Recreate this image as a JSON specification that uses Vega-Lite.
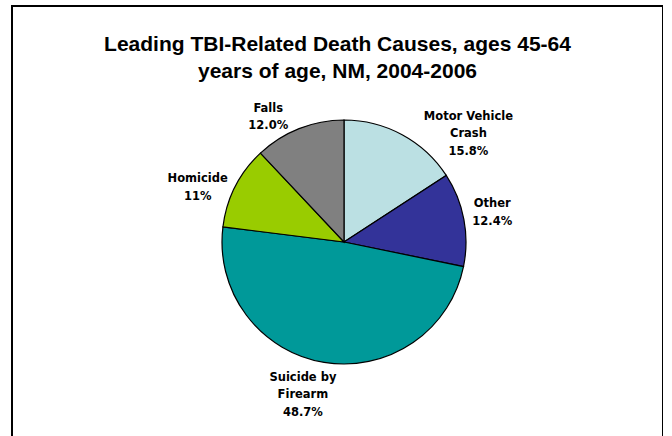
{
  "$schema": "https://vega.github.io/schema/vega-lite/v6.json",
  "width": 651,
  "height": 440,
  "autosize": "none",
  "padding": {"left": 12, "top": 6, "right": 0, "bottom": 0},
  "background": "white",
  "view": {"stroke": "black", "strokeWidth": 2, "fill": "white"},
  "config": {"view": {"stroke": "black", "strokeWidth": 2}},
  "title": {
    "text": ["Leading TBI-Related Death Causes, ages 45-64", "years of age, NM, 2004-2006"],
    "font": "Liberation Sans",
    "fontSize": 21,
    "fontWeight": "bold",
    "color": "black",
    "anchor": "middle",
    "offset": -76,
    "lineHeight": 27
  },
  "data": {
    "values": [
      {"cause": "Motor Vehicle Crash", "pct": 15.8, "label": ["Motor Vehicle", "Crash", "15.8%"]},
      {"cause": "Other", "pct": 12.4, "label": ["Other", "12.4%"]},
      {"cause": "Suicide by Firearm", "pct": 48.7, "label": ["Suicide by", "Firearm", "48.7%"]},
      {"cause": "Homicide", "pct": 11, "label": ["Homicide", "11%"]},
      {"cause": "Falls", "pct": 12.0, "label": ["Falls", "12.0%"]}
    ]
  },
  "transform": [{"window": [{"op": "row_number", "as": "idx"}]}],
  "encoding": {
    "theta": {"field": "pct", "type": "quantitative", "stack": true},
    "order": {"field": "idx", "type": "quantitative"}
  },
  "layer": [
    {
      "mark": {"type": "arc", "outerRadius": 122, "stroke": "black", "strokeWidth": 1.2, "x": {"expr": "width/2+6.5"}, "y": {"expr": "height/2+16"}},
      "encoding": {
        "color": {
          "field": "cause",
          "type": "nominal",
          "scale": {
            "domain": ["Motor Vehicle Crash", "Other", "Suicide by Firearm", "Homicide", "Falls"],
            "range": ["#BBE0E3", "#333399", "#009999", "#99CC00", "#808080"]
          },
          "legend": null
        }
      }
    },
    {
      "mark": {
        "type": "text", "radius": 154,
        "font": "DejaVu Sans", "fontSize": 11.5, "fontWeight": "bold", "color": "black",
        "align": "center", "baseline": "middle", "lineHeight": 17.5,
        "x": {"expr": "width/2+6.5"}, "y": {"expr": "height/2+16"},
        "dx": {"expr": "datum.cause === 'Motor Vehicle Crash' ? 51 : datum.cause === 'Other' ? -3 : datum.cause === 'Suicide by Firearm' ? -16 : datum.cause === 'Homicide' ? -9 : -19"},
        "dy": {"expr": "datum.cause === 'Motor Vehicle Crash' ? 10 : datum.cause === 'Other' ? -9 : datum.cause === 'Suicide by Firearm' ? -16 : datum.cause === 'Homicide' ? 7 : 10"}
      },
      "encoding": {
        "text": {"field": "label"}
      }
    }
  ]
}
